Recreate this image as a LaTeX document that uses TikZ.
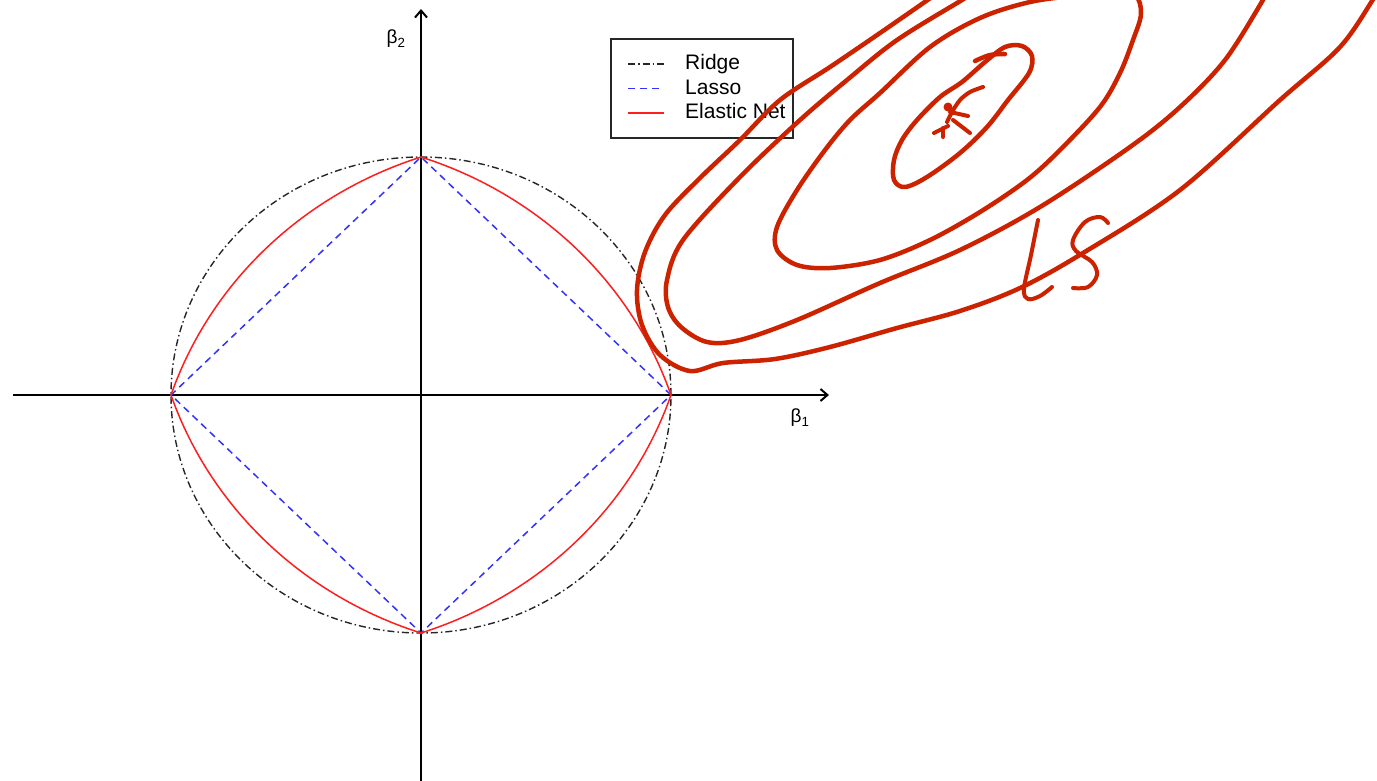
\documentclass[tikz,border=0pt]{standalone}
\usepackage{fontspec}
\setmainfont{Liberation Sans}
\usetikzlibrary{calc,arrows.meta}

\definecolor{inkred}{RGB}{204,34,0}
\definecolor{netred}{RGB}{255,30,30}
\definecolor{lassoblue}{RGB}{50,50,255}

\tikzset{
  axisline/.style={line width=2pt,-{Straight Barb[length=7pt,width=12pt]}},
  ridge/.style={black!85,line width=1.4pt,dash pattern=on 7pt off 3pt on 1.5pt off 3pt},
  lasso/.style={lassoblue,line width=1.5pt,dash pattern=on 7pt off 5pt},
  elastic/.style={netred,line width=1.5pt},
  ink/.style={inkred,line width=4.5pt,line cap=round,line join=round},
  axlabel/.style={draw=none,fill=none,inner sep=0pt,font=\fontsize{19}{19}\selectfont},
  legtext/.style={draw=none,fill=none,anchor=west,inner sep=0pt,text height=15pt,text depth=4pt,font=\fontsize{21}{21}\selectfont}
}

\begin{document}
\begin{tikzpicture}[x=1pt,y=-1pt,
  declare function={enr(\t)=(sqrt((abs(cos(\t))+abs(sin(\t)))^2+8)-abs(cos(\t))-abs(sin(\t)))/2;}]
  \useasboundingbox (0,0) rectangle (1377,780);

  % Axes
  \coordinate (O) at (421,395);
  \coordinate (xleft) at (13,395);
  \coordinate (xright) at (829,395);
  \coordinate (ybottom) at (421,782);
  \coordinate (ytop) at (421,9);
  \draw[axisline] (xleft) -- (xright);
  \draw[axisline] (ybottom) -- (ytop);
  \node[axlabel] (b2) at (396,39) {β\textsubscript{2}};
  \node[axlabel] (b1) at (800,418) {β\textsubscript{1}};

  % Constraint regions
  \begin{scope}[shift={(O)},x=250pt,y=238pt]
    \draw[ridge] (0,0) ellipse [x radius=1, y radius=1];
    \draw[lasso] (1,0) -- (0,1) -- (-1,0) -- (0,-1) -- cycle;
    \draw[elastic] plot[domain=0:360,samples=241] (\x:{enr(\x)}) -- cycle;
  \end{scope}

  % Legend
  \node[draw=black!85,line width=2pt,minimum width=182pt,minimum height=99pt,anchor=north west,inner sep=0pt] (legend) at (610,38) {};
  \node[legtext] (ridgetxt) at ($(legend.north west)+(75,26)$) {Ridge};
  \node[legtext] (lassotxt) at ($(ridgetxt.west)+(0,24.5)$) {Lasso};
  \node[legtext] (elastictxt) at ($(lassotxt.west)+(0,24.5)$) {Elastic Net};
  \draw[ridge] ($(ridgetxt.west)+(-57,0)$) -- ($(ridgetxt.west)+(-21,0)$);
  \draw[lasso] ($(lassotxt.west)+(-57,0)$) -- ($(lassotxt.west)+(-21,0)$);
  \draw[elastic] ($(elastictxt.west)+(-57,0)$) -- ($(elastictxt.west)+(-21,0)$);

  % Hand-drawn least squares contours
  \begin{scope}
    \clip (0,0) rectangle (1377,780);
    % outer contour
    \draw[ink] plot[smooth,tension=0.55] coordinates {(942,-10) (880,33) (830,67) (780,100) (740,140) (700,178) (665,215) (645,252) (637,290) (642,325) (660,355) (690,371) (723,363) (775,359) (830,347) (897,328) (960,311) (1020,288) (1083,253) (1180,190) (1280,100) (1340,47) (1374,-2) (1380,-10)};
    % second contour
    \draw[ink] plot[smooth,tension=0.55] coordinates {(978,-10) (962,0) (897,40) (847,80) (800,120) (740,177) (683,240) (667,280) (668,307) (681,327) (707,342) (740,340) (797,320) (880,283) (960,250) (1040,207) (1130,147) (1180,107) (1225,60) (1263,0) (1268,-10)};
    % middle contour
    \draw[ink] plot[smooth cycle,tension=0.55] coordinates {(1080,-5) (1030,2) (980,18) (930,47) (880,93) (850,120) (825,150) (797,190) (777,227) (777,250) (797,265) (830,268) (880,260) (930,240) (980,212) (1027,180) (1060,150) (1100,107) (1120,73) (1133,40) (1141,14) (1135,-5) (1110,-9)};
    % inner contour
    \draw[ink] plot[smooth cycle,tension=0.55] coordinates {(1005,47) (1022,46) (1032,56) (1029,73) (1008,100) (987,127) (960,153) (927,177) (905,187) (894,180) (894,160) (902,140) (917,120) (940,97) (962,82) (985,62)};
    \draw[ink] plot[smooth,tension=0.6] coordinates {(975,61) (990,55) (1005,54)};
  \end{scope}

  % Minimum mark
  \draw[ink,line width=4pt] plot[smooth] coordinates {(983,87) (970,92) (960,100) (952,112) (947,122)};
  \fill[inkred] (948,107) circle[radius=4.5];
  \draw[ink,line width=4pt] (950,112) -- (968,116);
  \draw[ink,line width=4pt] (953,120) -- (970,133);
  \draw[ink,line width=4pt] (934,133) -- (948,126);
  \draw[ink,line width=4pt] (943,128) -- (943,137);

  % LS label
  \draw[ink,line width=4pt] plot[smooth,tension=0.6] coordinates {(1038,220) (1031,255) (1024,289) (1028,299) (1040,296) (1052,287)};
  \draw[ink,line width=4pt] plot[smooth,tension=0.6] coordinates {(1108,223) (1100,217) (1085,222) (1073,240) (1076,251) (1092,262) (1097,275) (1088,287) (1073,288)};
\end{tikzpicture}
\end{document}
